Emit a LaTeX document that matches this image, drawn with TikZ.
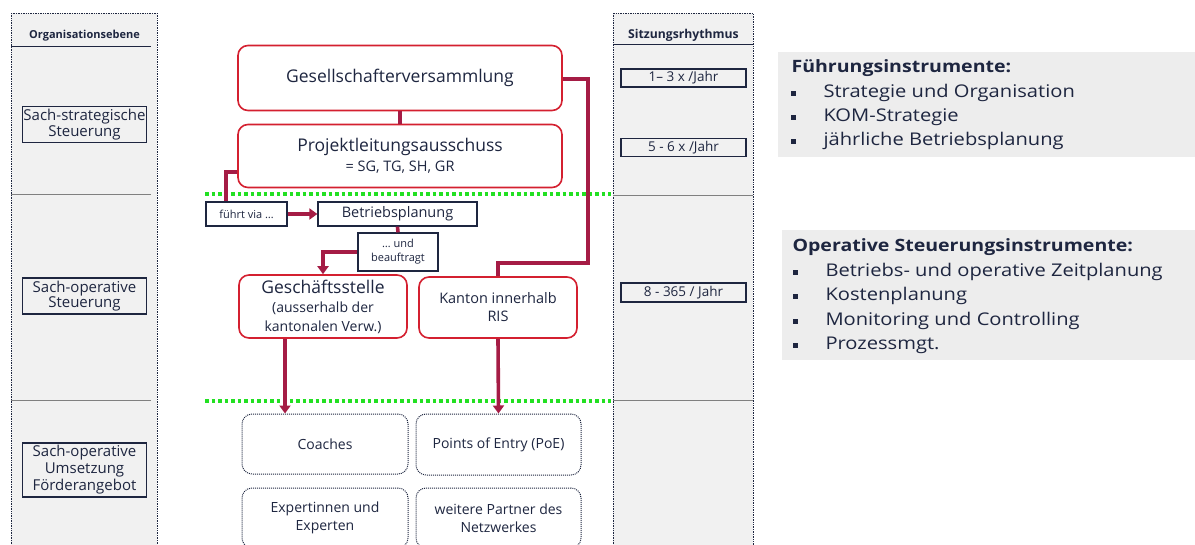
\documentclass[tikz,border=0pt]{standalone}
\usepackage{fontspec}
\setmainfont{Open Sans}
\setsansfont{Open Sans}
\newfontfamily\panelfont[FakeStretch=1.15]{Open Sans}
\usetikzlibrary{arrows.meta,calc,positioning}
\definecolor{txt}{HTML}{1E2640}
\definecolor{redb}{HTML}{D42030}
\definecolor{conn}{HTML}{A51C45}
\definecolor{grn}{HTML}{22E022}
\definecolor{colfill}{HTML}{F1F1F1}
\definecolor{panel}{HTML}{EDEDED}
\tikzset{
  redbox/.style={draw=redb, line width=1.6pt, rounded corners=10pt, fill=white, text=txt, align=center, inner sep=2pt},
  labbox/.style={draw=txt, line width=1.2pt, fill=colfill, text=txt, align=center, inner sep=1pt},
  blkbox/.style={draw=txt, line width=1.3pt, fill=white, text=txt, align=center, inner sep=1pt},
  dotbox/.style={draw=txt, line width=1pt, densely dotted, rounded corners=10pt, fill=white, text=txt, align=center},
  connector/.style={draw=conn, line width=3.6pt},
  arr/.style={connector, -{Triangle[length=8pt,width=11pt]}},
  sep/.style={draw=grn, line width=3.5pt, dash pattern=on 3.5pt off 3pt},
  colframe/.style={draw=txt, line width=0.7pt, densely dotted, fill=colfill},
  headtxt/.style={text=txt, font=\bfseries\fontsize{11}{13}\selectfont},
  ptext/.style={anchor=west, text=txt, font=\panelfont\fontsize{17.5}{20}\selectfont},
  phead/.style={anchor=west, text=txt, font=\panelfont\bfseries\fontsize{17}{20}\selectfont},
}
\begin{document}
\begin{tikzpicture}[x=1pt,y=-1pt]
\useasboundingbox (0,0) rectangle (1195,544);

% columns
\path[colframe] (11,13) rectangle (157,560);
\path[colframe] (613,13) rectangle (753,560);
\draw[txt, line width=0.8pt] (11,46) -- (151,46);
\draw[txt, line width=0.8pt] (613,44) -- (753,44);
\draw[gray, line width=0.9pt] (11,194) -- (151,194);
\draw[gray, line width=0.9pt] (11,400) -- (151,400);
\draw[gray, line width=0.9pt] (613,195) -- (753,195);
\draw[gray, line width=0.9pt] (613,400) -- (753,400);
\node[headtxt] (h1) at (84.5,36) {Organisationsebene};
\node[headtxt, font=\bfseries\fontsize{12.2}{14}\selectfont] (h2) at (683.5,35) {Sitzungsrhythmus};

\node[labbox, minimum width=124pt, minimum height=36pt, font=\fontsize{15}{15.5}\selectfont] (s1) at (84.5,124.5) {Sach-strategische\\Steuerung};
\node[labbox, minimum width=124pt, minimum height=36pt, font=\fontsize{15}{15.5}\selectfont] (s2) at (84.5,296) {Sach-operative\\Steuerung};
\node[labbox, minimum width=124pt, minimum height=54pt, font=\fontsize{15}{17}\selectfont] (s3) at (84.5,470) {Sach-operative\\Umsetzung\\Förderangebot};

\node[labbox, minimum width=125pt, minimum height=18pt, font=\fontsize{13.5}{15}\selectfont] (r1) at (683.5,78) {1– 3 x /Jahr};
\node[labbox, minimum width=125pt, minimum height=18pt, font=\fontsize{13.5}{15}\selectfont] (r2) at (683.5,147.5) {5 - 6 x /Jahr};
\node[labbox, minimum width=125pt, minimum height=19pt, font=\fontsize{13.5}{15}\selectfont] (r3) at (683.5,292.5) {8 - 365 / Jahr};

% green separators
\draw[sep] (205,194) -- (611,194);
\draw[sep] (205,401) -- (611,401);

% right panels
\fill[panel] (778,52) rectangle (1195,157);
\fill[panel] (782,230) rectangle (1195,360);
\node[phead] (p1h) at (788,68) {Führungsinstrumente:};
\node[ptext] (p1a) at (820,93) {Strategie und Organisation};
\node[ptext] (p1b) at (820,117) {KOM-Strategie};
\node[ptext] (p1c) at (820,141) {jährliche Betriebsplanung};
\foreach \y in {93,117,141} \fill[txt] (791,\y-2.5) rectangle (796,\y+2.5);
\node[phead] (p2h) at (789,247) {Operative Steuerungsinstrumente:};
\node[ptext] (p2a) at (822,272) {Betriebs- und operative Zeitplanung};
\node[ptext] (p2b) at (822,296) {Kostenplanung};
\node[ptext] (p2c) at (822,321) {Monitoring und Controlling};
\node[ptext] (p2d) at (822,345) {Prozessmgt.};
\foreach \y in {272,296,321,345} \fill[txt] (793,\y-2.5) rectangle (798,\y+2.5);

% bend points
\coordinate (k1) at (588,79);
\coordinate (k2) at (588,263);
\coordinate (k3) at (498,263);
\coordinate (f1) at (226,172);

% main boxes
\node[redbox, minimum width=324pt, minimum height=65pt, font=\fontsize{17.5}{20}\selectfont] (gv) at (400,78) {Gesellschafterversammlung};
\node[redbox, minimum width=324pt, minimum height=63pt, font=\fontsize{14.5}{20}\selectfont] (pla) at (400,156) {{\fontsize{17.5}{20}\selectfont Projektleitungsausschuss}\\{\fontsize{14.5}{20}\selectfont = SG, TG, SH, GR}};
\node[blkbox, minimum width=81pt, minimum height=24pt, font=\fontsize{11}{13}\selectfont] (fv) at (246.5,214) {führt via \dots};
\node[blkbox, minimum width=159pt, minimum height=24pt, font=\fontsize{14.5}{16}\selectfont] (bp) at (397.5,214) {Betriebsplanung};
\node[blkbox, minimum width=80pt, minimum height=38pt, font=\fontsize{11}{14}\selectfont] (ub) at (398,252) {\dots\ und\\beauftragt};
\node[redbox, minimum width=168pt, minimum height=63pt, font=\fontsize{14}{19}\selectfont] (gs) at (323,306.5) {{\fontsize{17.5}{19}\selectfont Geschäftsstelle}\\(ausserhalb der\\kantonalen Verw.)};
\node[redbox, minimum width=158pt, minimum height=61pt, font=\fontsize{14.5}{18}\selectfont] (ka) at (498,307.5) {Kanton innerhalb\\RIS};

\node[dotbox, minimum width=166pt, minimum height=60pt, font=\fontsize{14}{17}\selectfont] (co) at (325,444) {Coaches};
\node[dotbox, minimum width=165pt, minimum height=61pt, font=\fontsize{14}{17}\selectfont] (poe) at (498.5,444.5) {Points of Entry (PoE)};
\node[dotbox, minimum width=166pt, minimum height=60pt, font=\fontsize{14}{18}\selectfont] (ex) at (325,518) {Expertinnen und\\Experten};
\node[dotbox, minimum width=165pt, minimum height=60pt, font=\fontsize{14}{18}\selectfont] (wp) at (498.5,518) {weitere Partner des\\Netzwerkes};

% connectors
\draw[connector] (gv.south) -- (pla.north);
\draw[connector] (gv.east |- k1) -- (k1) -- (k2) -- (k3) -- (ka.north);
\draw[connector] (pla.west |- f1) -- (f1) -- (f1 |- fv.north);
\draw[arr] (fv.east) -- (bp.west);
\draw[connector] (bp.south) -- (ub.north);
\draw[arr] (ub.west) -| (gs.north);
\draw[arr] ($(gs.south)+(-38,0)$) -- ($(co.north)+(-40,0)$);
\draw[arr] (ka.south) -- (poe.north);
\end{tikzpicture}
\end{document}
